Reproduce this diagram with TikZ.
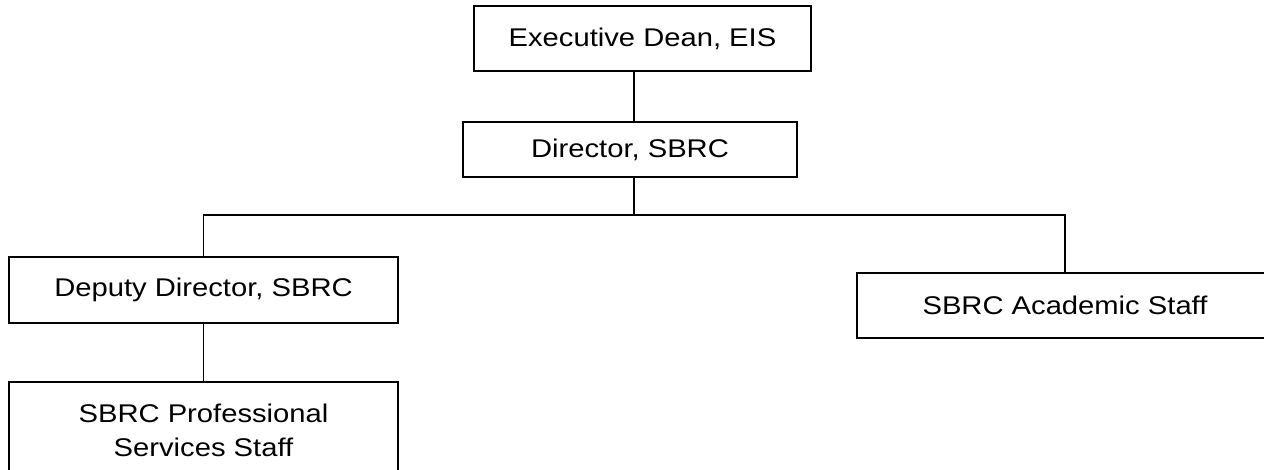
\documentclass[tikz,border=0pt]{standalone}
\usepackage{fontspec}
\setmainfont{Liberation Sans}[FakeStretch=1.14]
\begin{document}
\begin{tikzpicture}[x=1pt,y=-1pt,
  orgbox/.style={draw=black, line width=1.5pt, inner sep=0pt, align=center,
    font=\fontsize{25.6}{34}\selectfont},
  link/.style={draw=black, line width=1.5pt}]
\useasboundingbox (0,0) rectangle (1264,470);
\clip (0,0) rectangle (1264,470);
\node[orgbox, minimum width=337pt, minimum height=65pt] (exec) at (642.5,38.5) {Executive Dean, EIS};
\node[orgbox, minimum width=334pt, minimum height=55pt] (dir) at (630,149.5) {Director, SBRC};
\node[orgbox, minimum width=389pt, minimum height=66pt] (dep) at (203.5,290) {Deputy Director, SBRC};
\node[orgbox, minimum width=416pt, minimum height=65pt] (acad) at (1065,305.5) {SBRC Academic Staff};
\node[orgbox, minimum width=389pt, minimum height=97pt] (prof) at (203.5,430.5) {SBRC Professional\\Services Staff};
\coordinate (busL) at (203.5,215);
\coordinate (busR) at (1065,215);
\draw[link] ([xshift=4pt]dir.north) -- ([xshift=4pt]dir.north |- exec.south);
\draw[link] ([xshift=4pt]dir.south) -- ([xshift=4pt]dir.south |- busL);
\draw[link] (dep.north) -- (busL) -- (busR) -- (acad.north);
\draw[link] (dep.south) -- (prof.north);
\end{tikzpicture}
\end{document}
